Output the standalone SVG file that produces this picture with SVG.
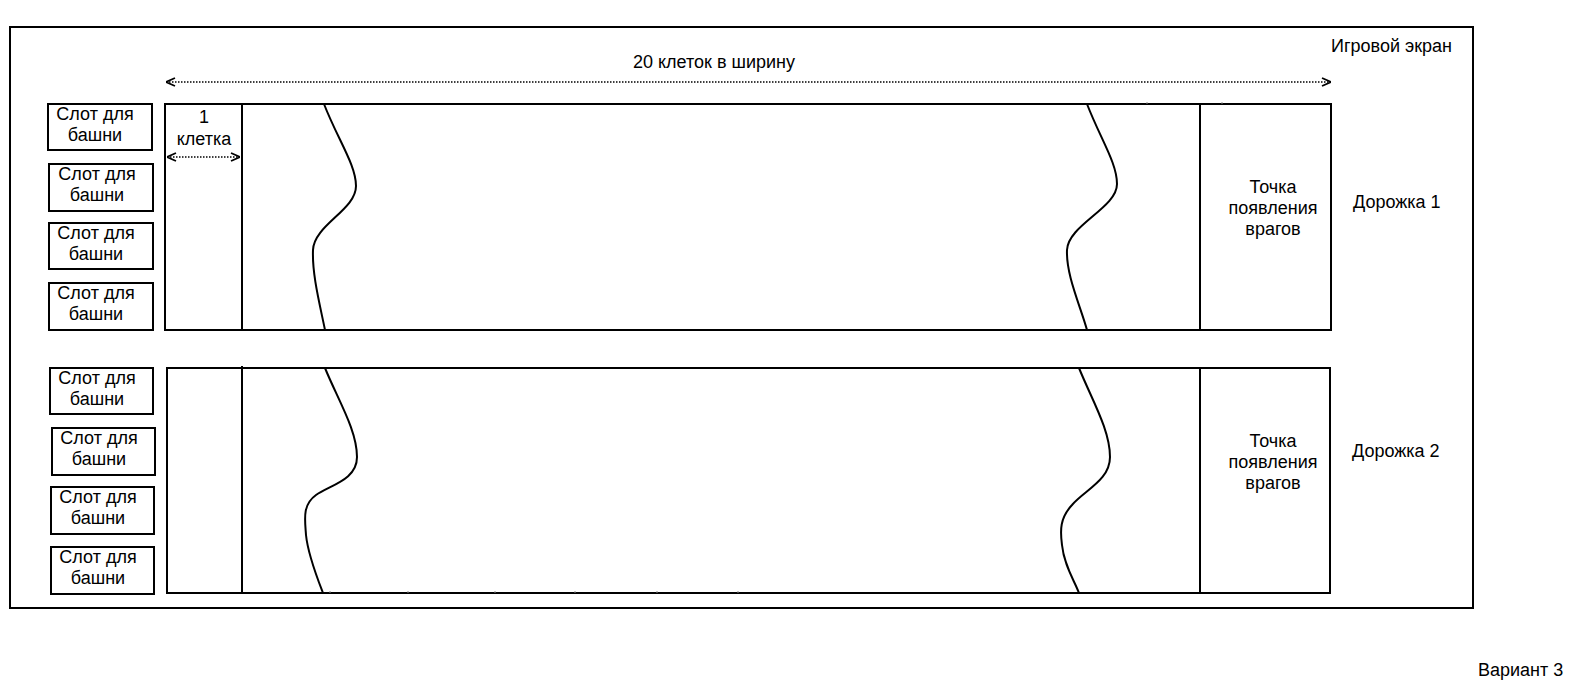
<svg xmlns="http://www.w3.org/2000/svg" width="1580" height="700" viewBox="0 0 1580 700">
<defs>
<style>
text{font-family:"Liberation Sans",Arial,sans-serif;font-size:18px;fill:#000}
.c{text-anchor:middle}
.box{fill:#fff;stroke:#000;stroke-width:2}
.vl{stroke:#000;stroke-width:2;fill:none}
.curve{stroke:#000;stroke-width:2;fill:none}
.dot{stroke:#000;stroke-width:1.5;stroke-dasharray:1.5 1.5;fill:none}
.tick{stroke:#888;stroke-width:1}
</style>
<marker id="ah" viewBox="0 0 10 10" refX="10" refY="5" markerWidth="10" markerHeight="10" markerUnits="userSpaceOnUse" orient="auto-start-reverse">
<path d="M1,1 L10,5 L1,9" fill="none" stroke="#000" stroke-width="1.8"/>
</marker>
</defs>
<rect width="1580" height="700" fill="#fff"/>
<g id="screen">
<rect x="10" y="27" width="1463" height="581" class="box"/>
<text x="1452" y="52" text-anchor="end">Игровой экран</text>
</g>
<g id="lane1">
<rect x="165" y="104" width="1166" height="226" class="box"/>
<line x1="242" y1="104" x2="242" y2="330" class="vl"/>
<line x1="1200" y1="104" x2="1200" y2="330" class="vl"/>
<path class="curve" d="M324,104 C338,140 356,165 356,186 C356,210 314,225 313,250 C312,275 320,305 325,330"/>
<path class="curve" d="M1087,104 C1101,140 1117,163 1117,184 C1117,208 1068,225 1067,250 C1066,275 1080,305 1087,330"/>
<text class="c" x="1273" y="193">Точка</text>
<text class="c" x="1273" y="214">появления</text>
<text class="c" x="1273" y="235">врагов</text>
<text x="1353" y="208">Дорожка 1</text>
<line class="tick" x1="1147" y1="102" x2="1147" y2="104"/>
<line class="tick" x1="1222" y1="102" x2="1222" y2="104"/>
</g>
<g id="lane2">
<rect x="167" y="368" width="1163" height="225" class="box"/>
<line x1="242" y1="366" x2="242" y2="593" class="vl"/>
<line x1="1200" y1="368" x2="1200" y2="592" class="vl"/>
<path class="curve" d="M325,368 C338,400 357,430 357,457 C357,480 330,485 316,495 C302,505 305,520 306,535 C308,555 318,580 323,593"/>
<path class="curve" d="M1079,368 C1092,400 1110,430 1110,457 C1110,480 1085,490 1072,505 C1060,518 1060,530 1062,545 C1064,565 1074,580 1079,593"/>
<text class="c" x="1273" y="447">Точка</text>
<text class="c" x="1273" y="468">появления</text>
<text class="c" x="1273" y="489">врагов</text>
<text x="1352" y="457">Дорожка 2</text>
<line class="tick" x1="330" y1="591" x2="330" y2="593"/>
<line class="tick" x1="408" y1="591" x2="408" y2="593"/>
<line class="tick" x1="495" y1="591" x2="495" y2="593"/>
<line class="tick" x1="575" y1="591" x2="575" y2="593"/>
<line class="tick" x1="657" y1="591" x2="657" y2="593"/>
<line class="tick" x1="738" y1="591" x2="738" y2="593"/>
</g>
<g id="slot1a"><rect x="48" y="104" width="104" height="46" class="box"/><text class="c" x="95" y="120">Слот для</text><text class="c" x="95" y="141">башни</text></g>
<g id="slot1b"><rect x="49" y="164" width="104" height="47" class="box"/><text class="c" x="97" y="180">Слот для</text><text class="c" x="97" y="201">башни</text></g>
<g id="slot1c"><rect x="49" y="223" width="104" height="46" class="box"/><text class="c" x="96" y="239">Слот для</text><text class="c" x="96" y="260">башни</text></g>
<g id="slot1d"><rect x="49" y="283" width="104" height="47" class="box"/><text class="c" x="96" y="299">Слот для</text><text class="c" x="96" y="320">башни</text></g>
<g id="slot2a"><rect x="50" y="368" width="103" height="46" class="box"/><text class="c" x="97" y="384">Слот для</text><text class="c" x="97" y="405">башни</text></g>
<g id="slot2b"><rect x="52" y="428" width="103" height="47" class="box"/><text class="c" x="99" y="444">Слот для</text><text class="c" x="99" y="465">башни</text></g>
<g id="slot2c"><rect x="51" y="487" width="103" height="47" class="box"/><text class="c" x="98" y="503">Слот для</text><text class="c" x="98" y="524">башни</text></g>
<g id="slot2d"><rect x="51" y="547" width="103" height="47" class="box"/><text class="c" x="98" y="563">Слот для</text><text class="c" x="98" y="584">башни</text></g>
<g id="connectors">
<line x1="166" y1="82" x2="1331" y2="82" class="dot" marker-start="url(#ah)" marker-end="url(#ah)"/>
<line x1="167" y1="157" x2="240" y2="157" class="dot" marker-start="url(#ah)" marker-end="url(#ah)"/>
</g>
<g id="labels">
<text class="c" x="714" y="68">20 клеток в ширину</text>
<text class="c" x="204" y="123">1</text>
<text class="c" x="204" y="145">клетка</text>
<text x="1478" y="676">Вариант 3</text>
</g>
</svg>
